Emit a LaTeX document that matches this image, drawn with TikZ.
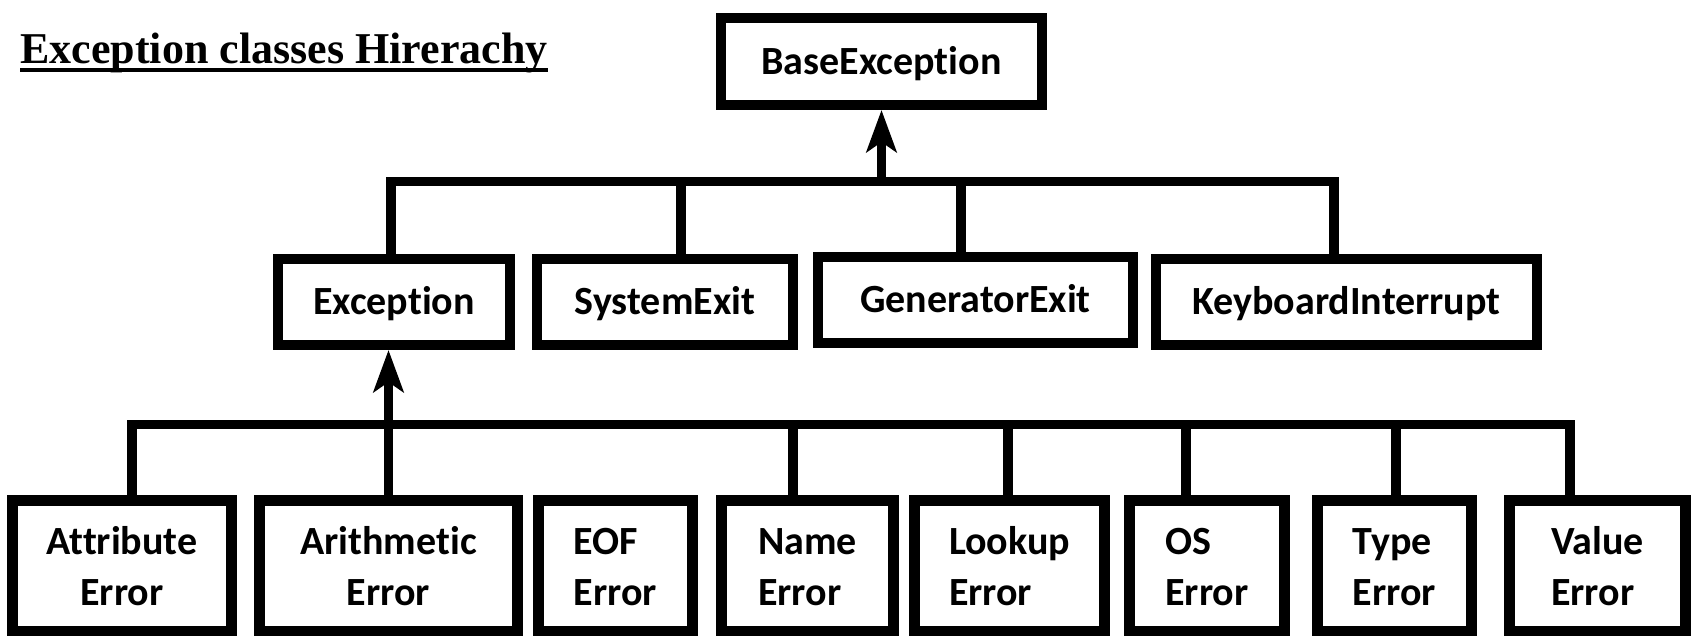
\documentclass[tikz,border=0pt]{standalone}
\usepackage{fontspec}
\setmainfont{Liberation Serif}
\newfontfamily\boxfont{Carlito}[Ligatures=NoCommon]
\usetikzlibrary{arrows.meta,calc}
\tikzset{
  titletext/.style={inner sep=0pt, font=\bfseries\fontsize{22pt}{26pt}\selectfont},
  box/.style={draw, line width=5pt, inner sep=0pt, minimum height=43pt,
    font=\boxfont\bfseries\fontsize{20pt}{25.85pt}\selectfont,
    text height=12.9pt, text depth=0pt},
  ebox/.style={draw, line width=5.5pt, inner sep=0pt, minimum height=65.5pt,
    font=\boxfont\bfseries\fontsize{20pt}{25.85pt}\selectfont},
  conn/.style={line width=4.7pt},
  arr/.style={conn, -{Stealth[length=21pt,width=15pt,inset=5pt]}},
}
\begin{document}
\begin{tikzpicture}[x=0.5pt,y=-0.5pt]
\useasboundingbox (0,0) rectangle (1694,636);
% title
\node[titletext, anchor=base west] (title) at (20,63.3) {Exception classes Hirerachy};
\draw[line width=1.8pt] ($(title.base west)+(0,7)$) -- ($(title.base east)+(0,7)$);
% top
\node[box, minimum width=160.5pt, minimum height=43.5pt] (base) at (881.5,61.5) {BaseException};
% middle row
\node[box, minimum width=116pt] (exc) at (394,302) {Exception};
\node[box, minimum width=128pt] (sys) at (665,302) {SystemExit};
\node[box, minimum width=157.5pt] (gen) at (975.5,300) {GeneratorExit};
\node[box, minimum width=190.5pt] (ki) at (1346.5,302) {KeyboardInterrupt};
% bottom row
\node[ebox, align=center, minimum width=109.5pt] (attr) at (122,566) {\vphantom{Abl}Attribute\\Error};
\node[ebox, align=center, minimum width=129pt] (arith) at (388.5,566) {\vphantom{Abl}Arithmetic\\Error};
\node[ebox, align=left, minimum width=77pt] (eof) at (615.5,566) {\vphantom{Abl}EOF\\Error};
\node[ebox, align=left, minimum width=86pt] (name) at (807.5,566) {\vphantom{Abl}Name\\Error};
\node[ebox, align=left, minimum width=95pt] (look) at (1009.5,566) {\vphantom{Abl}Lookup\\Error};
\node[ebox, align=left, minimum width=77.5pt] (os) at (1207,566) {\vphantom{Abl}OS\\Error};
\node[ebox, align=left, minimum width=77pt] (type) at (1394.5,566) {\vphantom{Abl}Type\\Error};
\node[ebox, align=left, minimum width=88pt] (val) at (1597.5,566) {\vphantom{Abl}Value\\Error};
% top bar
\coordinate (t1) at (391,181.5);
\coordinate (t2) at (681,181.5);
\coordinate (t3) at (961,181.5);
\coordinate (t4) at (1334,181.5);
\coordinate (ta) at (880,181.5);
\draw[conn] (t1 |- exc.north) -- (t1) -- (t4) -- (t4 |- ki.north);
\draw[conn] (t2) -- (t2 |- sys.north);
\draw[conn] (t3) -- (t3 |- gen.north);
\draw[arr] (base.south |- ta) -- (base.south);
% bottom bar
\coordinate (b1) at (132,424.3);
\coordinate (b4) at (793,424.3);
\coordinate (b5) at (1008,424.3);
\coordinate (b6) at (1186,424.3);
\coordinate (b7) at (1396,424.3);
\coordinate (b8) at (1570,424.3);
\draw[conn] (b1 |- attr.north) -- (b1) -- (b8) -- (b8 |- val.north);
\draw[conn] (b4) -- (b4 |- name.north);
\draw[conn] (b5) -- (b5 |- look.north);
\draw[conn] (b6) -- (b6 |- os.north);
\draw[conn] (b7) -- (b7 |- type.north);
\draw[arr] (arith.north) -- (arith.north |- exc.south);
\end{tikzpicture}
\end{document}
